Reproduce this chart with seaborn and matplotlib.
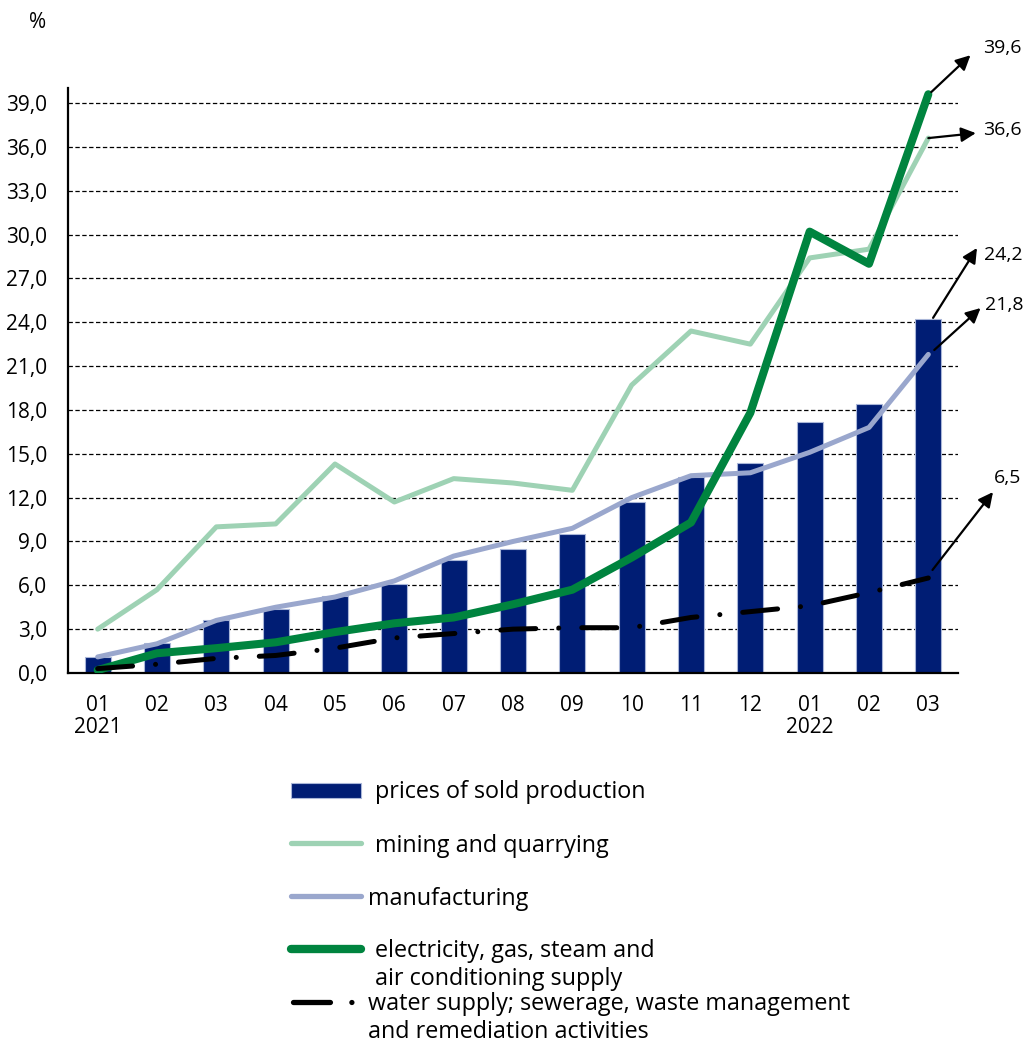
import numpy as np
import pandas as pd
import seaborn as sns
import matplotlib.pyplot as plt
from matplotlib.lines import Line2D
from matplotlib.patches import Rectangle

# data (y/y change, %)
months = ['01', '02', '03', '04', '05', '06', '07', '08', '09', '10', '11', '12', '01', '02', '03']
years = ['2021', '', '', '', '', '', '', '', '', '', '', '', '2022', '', '']
sold = [1.1, 2.05, 3.6, 4.4, 5.3, 6.1, 7.7, 8.5, 9.5, 11.7, 13.4, 14.4, 17.2, 18.4, 24.2]
mining = [3.0, 5.7, 10.0, 10.2, 14.3, 11.7, 13.3, 13.0, 12.5, 19.7, 23.4, 22.5, 28.4, 29.0, 36.6]
manuf = [1.1, 2.0, 3.6, 4.5, 5.2, 6.3, 8.0, 9.0, 9.9, 12.0, 13.5, 13.7, 15.1, 16.8, 21.8]
elec = [0.2, 1.35, 1.7, 2.1, 2.8, 3.4, 3.8, 4.7, 5.7, 7.9, 10.3, 17.8, 30.2, 28.0, 39.6]
water = [0.3, 0.6, 1.0, 1.2, 1.7, 2.4, 2.7, 3.0, 3.1, 3.1, 3.8, 4.2, 4.6, 5.5, 6.5]

labels = ['prices of sold production', 'mining and quarrying', 'manufacturing',
          'electricity, gas, steam and\nair conditioning supply',
          'water supply; sewerage, waste management\nand remediation activities']

NAVY = '#001d74'
MINT = '#9ed2b4'
LAVENDER = '#9aa7cd'
GREEN = '#00843f'
BLACK = '#000000'
WATER_DASH = (7, 4.6, 0.01, 4.6)

df = pd.DataFrame({'pos': np.arange(len(months)), 'sold': sold, 'mining': mining,
                   'manuf': manuf, 'elec': elec, 'water': water})

sns.set_style('white')
plt.rcParams['font.family'] = ['Open Sans', 'DejaVu Sans']
plt.rcParams['font.size'] = 15
for k in ['text.color', 'xtick.color', 'ytick.color', 'axes.labelcolor']:
    plt.rcParams[k] = 'black'

W, H = 1026, 1044
fig = plt.figure(figsize=(W / 100, H / 100), dpi=100)
ax = fig.add_axes([68 / W, 371 / H, 890 / W, 584.6 / H])


def px(x, y):
    # figure pixel (from top-left) -> figure fraction
    return x / W, 1 - y / H


# Step 1: bars + lines
sns.barplot(data=df, x='pos', y='sold', color=NAVY, saturation=1, width=0.44,
            edgecolor='#a9b6d8', linewidth=0.8, ax=ax, zorder=2)
sns.lineplot(data=df, x='pos', y='mining', color=MINT, lw=3.6, ax=ax, zorder=3)
sns.lineplot(data=df, x='pos', y='manuf', color=LAVENDER, lw=3.6, ax=ax, zorder=3)
sns.lineplot(data=df, x='pos', y='elec', color=GREEN, lw=5.8, ax=ax, zorder=4)
sns.lineplot(data=df, x='pos', y='water', color=BLACK, lw=3.6, ax=ax, zorder=5)
wl = ax.lines[-1]
wl.set_dashes(WATER_DASH)
wl.set_dash_capstyle('round')

# Step 2: axes styling
ax.set_xlim(-0.5, len(months) - 0.5)
ax.set_ylim(0, 40)
ax.set_yticks(np.arange(0, 40, 3))
ax.set_yticklabels([f'{v:.1f}'.replace('.', ',') for v in np.arange(0, 40, 3)])
ax.set_xticks(df['pos'])
ax.set_xticklabels([m + ('\n' + y if y else '') for m, y in zip(months, years)],
                   linespacing=1.05)
ax.set_xticks(np.arange(-0.5, len(months), 1), minor=True)
ax.tick_params(axis='x', which='major', length=0, pad=16, labelsize=15)
ax.tick_params(axis='x', which='minor', direction='in', length=6, width=1.3, color='black')
ax.tick_params(axis='y', direction='inout', length=10, width=1.3, pad=10, labelsize=15, color='black')
ax.set_xlabel('')
ax.set_ylabel('')
ax.set_axisbelow(True)
ax.yaxis.grid(True, color='black', linestyle=(0, (3.5, 2)), lw=0.9)
sns.despine(ax=ax)
for s in ['left', 'bottom']:
    ax.spines[s].set_linewidth(1.6)
    ax.spines[s].set_color('black')

fig.text(*px(38, 22), '%', ha='center', va='center', fontsize=15)

# Step 3: end-value call-outs (arrow start, arrow head, text pos relative to last point)
ends = [elec[-1], mining[-1], sold[-1], manuf[-1], water[-1]]
callout_offsets = [
    ((0.05, 0.15), (0.71, 2.67), (0.93, 3.16)),
    ((0.0, 0.0), (0.80, 0.34), (0.93, 0.55)),
    ((0.08, 0.1), (0.82, 4.88), (0.94, 4.40)),
    ((0.1, 0.3), (0.88, 3.17), (0.95, 3.38)),
    ((0.07, 0.55), (1.09, 5.88), (1.10, 6.84)),
]
last = len(months) - 1
for v, (st, hd, tx) in zip(ends, callout_offsets):
    ax.annotate('', xy=(last + hd[0], v + hd[1]), xytext=(last + st[0], v + st[1]),
                arrowprops=dict(arrowstyle='-|>', color='black', lw=1.6,
                                mutation_scale=22, shrinkA=0, shrinkB=0),
                annotation_clip=False, zorder=6)
    ax.text(last + tx[0], v + tx[1], f'{v:.1f}'.replace('.', ','), ha='left',
            va='center', fontsize=14, clip_on=False)

# Step 4: legend drawn by hand (handles sit at the first text line)
fig.add_artist(Rectangle(px(291, 798), 70 / W, 15 / H, transform=fig.transFigure,
                         facecolor=NAVY, edgecolor='#a9b6d8', lw=0.8))
for y, c, lw in [(843, MINT, 3.8), (896, LAVENDER, 3.8), (949, GREEN, 6.0)]:
    fig.add_artist(Line2D([291 / W, 361 / W], [1 - y / H] * 2, transform=fig.transFigure,
                          color=c, lw=lw, solid_capstyle='round'))
wh = Line2D([292.5 / W, 354 / W], [1 - 1002 / H] * 2, transform=fig.transFigure,
            color=BLACK, lw=3.8, dash_capstyle='round')
wh.set_dashes((7, 4.06, 0.01, 10))
fig.add_artist(wh)

# baseline of the last text line of each entry
for (x, yb), lab in zip([(375, 798), (375, 852), (368, 905), (375, 985), (368, 1038)], labels):
    fig.text(*px(x, yb), lab, ha='left', va='baseline', fontsize=16.8, linespacing=1.24)

fig.savefig('out.png', dpi=100)
